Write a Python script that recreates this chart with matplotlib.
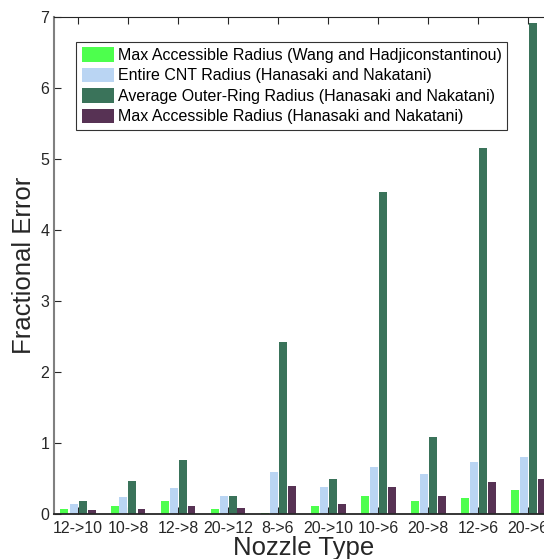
import numpy as np
import matplotlib
matplotlib.use("Agg")
import matplotlib.pyplot as plt

# ---------------- Data ----------------
nozzles = ["12->10", "10->8", "12->8", "20->12", "8->6", "20->10", "10->6", "20->8", "12->6", "20->6"]
wang_max = [0.066, 0.118, 0.19, 0.075, 0.02, 0.118, 0.26, 0.19, 0.23, 0.344]
hn_entire = [0.146, 0.245, 0.36, 0.26, 0.585, 0.387, 0.656, 0.557, 0.726, 0.797]
hn_outer = [0.19, 0.47, 0.755, 0.26, 2.42, 0.486, 4.535, 1.08, 5.155, 6.915]
hn_max = [0.052, 0.075, 0.118, 0.09, 0.40, 0.146, 0.387, 0.26, 0.457, 0.50]

series_labels = [
    "Max Accessible Radius (Wang and Hadjiconstantinou)",
    "Entire CNT Radius (Hanasaki and Nakatani)",
    "Average Outer-Ring Radius (Hanasaki and Nakatani)",
    "Max Accessible Radius (Hanasaki and Nakatani)",
]
series_colors = ["#4dff4d", "#bad5f3", "#3a735a", "#573254"]

plt.rcParams["font.family"] = ["Liberation Sans", "DejaVu Sans"]

fig = plt.figure(figsize=(5.44, 5.59), dpi=100)
ax = fig.add_axes([54 / 544, 45 / 559, 500 / 544, 497 / 559])

x = np.arange(1, len(nozzles) + 1)
step = 0.18
width = 0.16
for i, (vals, lab, col) in enumerate(zip([wang_max, hn_entire, hn_outer, hn_max], series_labels, series_colors)):
    ax.bar(x + (i - 1.5) * step, vals, width, color=col, label=lab, zorder=2)

ax.set_xlim(0.52, 10.52)
ax.set_ylim(0, 7)
ax.set_xticks(x)
ax.set_xticklabels(nozzles, fontsize=11.5)
ax.tick_params(axis="x", pad=5)
ax.set_yticks(range(0, 8))
ax.tick_params(axis="y", labelsize=11.5, direction="in", length=5, colors="#262626")
ax.tick_params(axis="x", direction="in", length=5, top=True, colors="#262626")
ax.tick_params(axis="y", right=True)
for s in ax.spines.values():
    s.set_color("#262626")
    s.set_linewidth(0.8)
ax.spines["bottom"].set_linewidth(1.3)
ax.spines["left"].set_color("#808080")
ax.spines["left"].set_linewidth(1.5)

ax.set_xlabel("Nozzle Type", fontsize=18.5, labelpad=0, color="#262626")
ax.set_ylabel("Fractional Error", fontsize=18.5, labelpad=3, color="#262626")

leg = ax.legend(loc="upper left", bbox_to_anchor=(0.044, 0.95), borderaxespad=0,
                fontsize=11.5, frameon=True, fancybox=False, edgecolor="black",
                handlelength=2.0, handleheight=1.0, labelspacing=0.3,
                handletextpad=0.25, borderpad=0.35)
leg.get_frame().set_linewidth(0.8)

fig.savefig("out.png", dpi=100)
